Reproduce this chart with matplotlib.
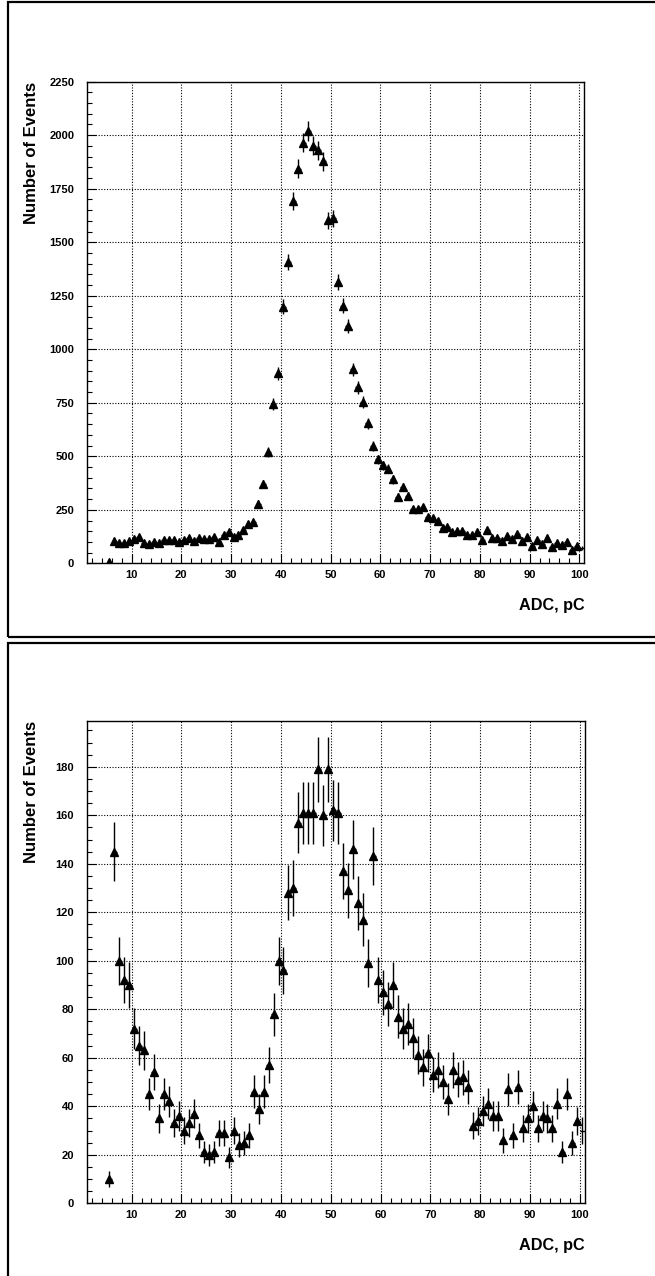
import numpy as np
import matplotlib
matplotlib.use('Agg')
import matplotlib.pyplot as plt
from matplotlib.patches import Rectangle
from matplotlib.ticker import MultipleLocator

plt.rcParams['font.family'] = ['Liberation Sans', 'DejaVu Sans']
plt.rcParams['font.weight'] = 'bold'

# bin centres, ADC in pC
adc = np.arange(5.5, 101.0, 1.0)

# upper panel: counts per bin
counts_top = [6,
              106, 96, 93, 104, 114, 121, 96, 90, 98, 96,
              109, 109, 109, 100, 109, 120, 104, 117, 115, 112,
              124, 101, 131, 145, 121, 134, 156, 184, 195, 277,
              370, 521, 744, 887, 1198, 1408, 1693, 1844, 1965, 2020,
              1950, 1930, 1878, 1603, 1611, 1315, 1203, 1108, 906, 822,
              755, 654, 548, 486, 459, 442, 392, 311, 355, 314,
              254, 254, 261, 215, 210, 198, 163, 168, 148, 151,
              152, 132, 134, 148, 109, 156, 117, 117, 106, 128,
              112, 137, 104, 124, 82, 109, 89, 120, 78, 93,
              86, 101, 62, 82, 73]

# lower panel: counts per bin
counts_bot = [10,
              145, 100, 92, 90, 72, 65, 63, 45, 54, 35,
              45, 42, 33, 36, 30, 33, 37, 28, 21, 20,
              21, 29, 29, 19, 30, 24, 25, 28, 46, 39,
              46, 57, 78, 100, 96, 128, 130, 157, 161, 161,
              161, 179, 160, 179, 162, 161, 137, 129, 146, 124,
              117, 99, 143, 92, 87, 82, 90, 77, 72, 74,
              68, 61, 56, 62, 53, 55, 50, 43, 55, 51,
              52, 48, 32, 34, 38, 41, 36, 36, 26, 47,
              28, 48, 31, 35, 40, 31, 36, 35, 31, 41,
              21, 45, 25, 34, 30]

fig = plt.figure(figsize=(6.55, 12.76), dpi=100)

# pad frames, right/bottom edges run off the picture
fig.patches.append(Rectangle((0.0122, 0.5008), 1.0, 0.4976, transform=fig.transFigure,
                             fill=False, edgecolor='black', linewidth=1.6))
fig.patches.append(Rectangle((0.0122, -0.02), 1.0, 0.5161, transform=fig.transFigure,
                             fill=False, edgecolor='black', linewidth=1.6))

ax1 = fig.add_axes([0.1324, 0.5585, 0.7597, 0.3775])
ax2 = fig.add_axes([0.1324, 0.0570, 0.7605, 0.3782])


def draw(ax, y, ymax, ymajor, yminor):
    y = np.asarray(y, dtype=float)
    err = np.sqrt(y)
    ax.errorbar(adc, y, yerr=err, xerr=0.5, fmt='none', ecolor='black', elinewidth=1.0,
                capsize=0, zorder=3)
    ax.plot(adc[:-1], y[:-1], linestyle='none', marker='^', markersize=5.2,
            color='black', zorder=4)
    ax.set_xlim(1, 101)
    ax.set_ylim(0, ymax)
    ax.xaxis.set_major_locator(MultipleLocator(10))
    ax.xaxis.set_minor_locator(MultipleLocator(2))
    ax.yaxis.set_major_locator(MultipleLocator(ymajor))
    ax.yaxis.set_minor_locator(MultipleLocator(yminor))
    ax.grid(True, which='major', linestyle=(0, (1, 1.5)), color='black', linewidth=0.8)
    ax.tick_params(which='both', direction='in', top=False, right=False, labelsize=8)
    ax.tick_params(which='major', length=6.5, width=0.8)
    ax.tick_params(which='minor', length=3.4, width=0.8)
    ax.tick_params(axis='x', pad=5)
    ax.tick_params(axis='y', pad=9)
    for s in ax.spines.values():
        s.set_linewidth(1.0)
    ax.text(1.0, -0.0865, 'ADC, pC', transform=ax.transAxes, ha='right', va='center',
            fontsize=11.7, fontweight='bold')
    ax.text(-0.11, 1.0, 'Number of Events', transform=ax.transAxes, ha='center',
            va='top', rotation=90, fontsize=12, fontweight='bold')
    ax.set_axisbelow(True)


draw(ax1, counts_top, 2250, 250, 50)
draw(ax2, counts_bot, 199, 20, 5)
ax2.set_yticks(np.arange(0, 181, 20))

fig.savefig('out.png', dpi=100)
